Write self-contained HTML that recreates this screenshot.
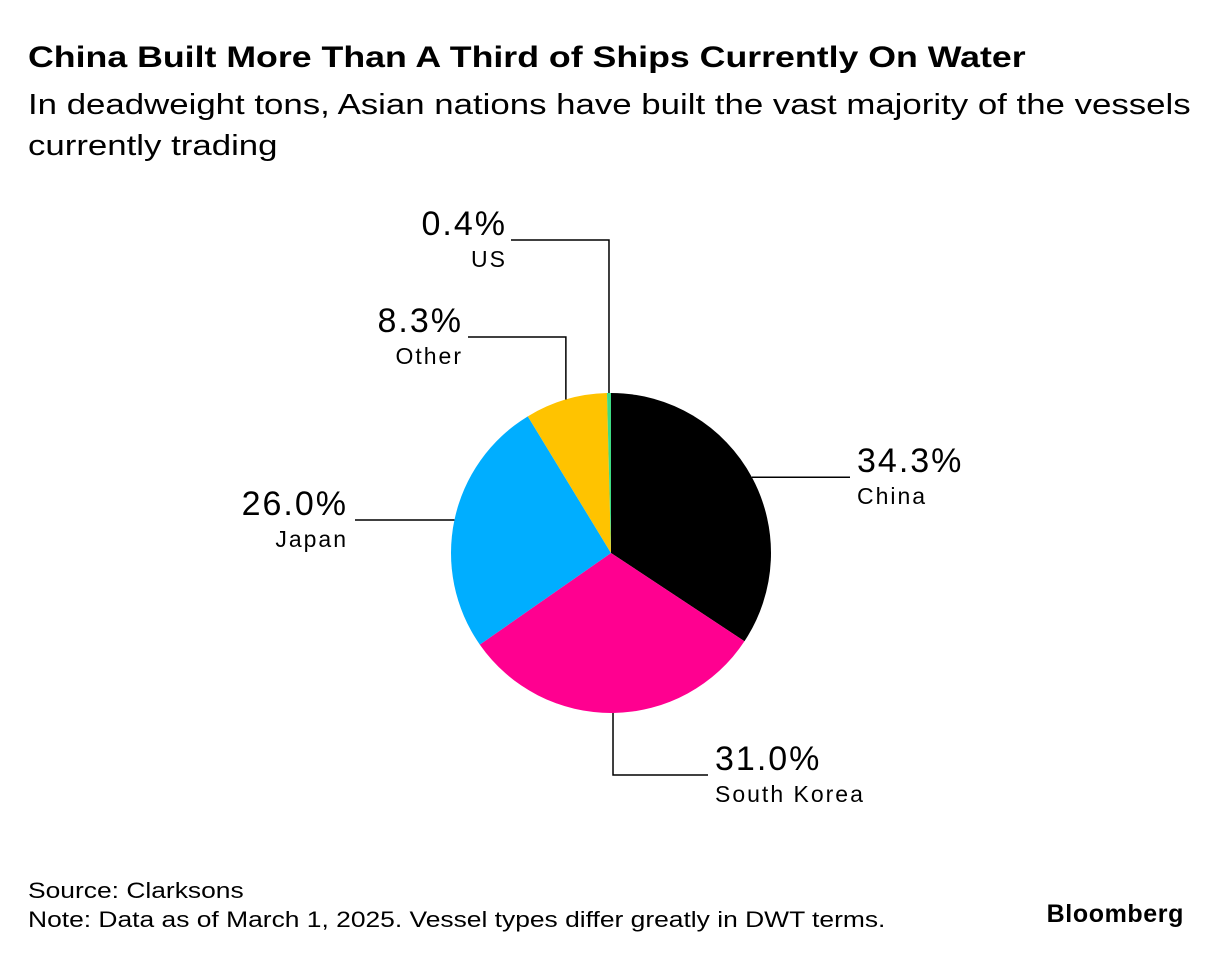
<!DOCTYPE html>
<html><head><meta charset="utf-8"><style>
body{margin:0;background:#fff;width:1222px;height:960px;overflow:hidden;font-family:"Liberation Sans",sans-serif;color:#000}
.t{position:absolute;left:28px;top:41px;font-size:30px;font-weight:bold;white-space:nowrap;transform:scaleX(1.19);transform-origin:0 0}
.s{position:absolute;left:28px;top:85px;font-size:29px;line-height:41px;white-space:nowrap;transform:scaleX(1.2);transform-origin:0 0}
.f{position:absolute;left:28px;top:876px;font-size:22px;line-height:29px;white-space:nowrap;transform:scaleX(1.2);transform-origin:0 0}
.b{position:absolute;right:38px;top:900px;font-size:25px;font-weight:bold;letter-spacing:0.6px}
svg{position:absolute;left:0;top:0}
text{letter-spacing:2px}
</style></head><body>
<div class="t">China Built More Than A Third of Ships Currently On Water</div>
<div class="s">In deadweight tons, Asian nations have built the vast majority of the vessels<br>currently trading</div>
<div class="f">Source: Clarksons<br>Note: Data as of March 1, 2025. Vessel types differ greatly in DWT terms.</div>
<div class="b">Bloomberg</div>
<svg id="chart" width="1222" height="960"></svg>
<script>
const categories=["China","South Korea","Japan","Other","US"];
const values=[34.3,31.0,26.0,8.3,0.4];
const labels=["34.3%","31.0%","26.0%","8.3%","0.4%"];
const colors=["#000000","#ff0090","#00aeff","#ffc300","#3ddc84"];
const cx=611,cy=553,R=160;
const ns="http://www.w3.org/2000/svg";
const svg=document.getElementById('chart');
const total=values.reduce((a,b)=>a+b,0);
function pt(a,r){return [cx+r*Math.sin(a),cy-r*Math.cos(a)];}
let acc=0;const mids=[];
values.forEach((v,i)=>{
  const a0=acc/total*2*Math.PI;acc+=v;const a1=acc/total*2*Math.PI;
  mids.push((a0+a1)/2);
  const p0=pt(a0,R),p1=pt(a1,R);
  const p=document.createElementNS(ns,'path');
  p.setAttribute('d',`M${cx},${cy}L${p0[0]},${p0[1]}A${R},${R} 0 ${a1-a0>Math.PI?1:0} 1 ${p1[0]},${p1[1]}Z`);
  p.setAttribute('fill',colors[i]);
  
  
  svg.appendChild(p);
});
const lay=[
 {h:true,end:850,tx:857,anchor:"start"},
 {v:true,y2:775,x2:708,tx:715,anchor:"start"},
 {h:true,end:355,tx:348,anchor:"end"},
 {v:true,y2:337,x2:468,tx:463,anchor:"end"},
 {v:true,y2:240,x2:511,tx:507,anchor:"end"}
];
function txt(x,y,s,size,anchor,name){
  const t=document.createElementNS(ns,'text');
  t.setAttribute('x',x);t.setAttribute('y',y);t.setAttribute('font-size',size);
  t.setAttribute('text-anchor',anchor);t.setAttribute('font-family','Liberation Sans, sans-serif');
  t.textContent=s;
  
  
  svg.appendChild(t);
}
lay.forEach((L,i)=>{
  const m=mids[i];const p=pt(m,R);
  const pl=document.createElementNS(ns,'polyline');
  let pts,ly;
  if(L.h){ly=p[1];pts=`${p[0]},${p[1]} ${L.end},${p[1]}`;}
  else{ly=L.y2;pts=`${p[0]},${p[1]} ${p[0]},${L.y2} ${L.x2},${L.y2}`;}
  pl.setAttribute('points',pts);pl.setAttribute('fill','none');pl.setAttribute('stroke','#000');pl.setAttribute('stroke-width','1.5');
  
  
  svg.appendChild(pl);
  txt(L.tx,ly-5,labels[i],34,L.anchor,'value-label');
  txt(L.tx,ly+27,categories[i],23,L.anchor,'category-label');
});
</script>
</body></html>
